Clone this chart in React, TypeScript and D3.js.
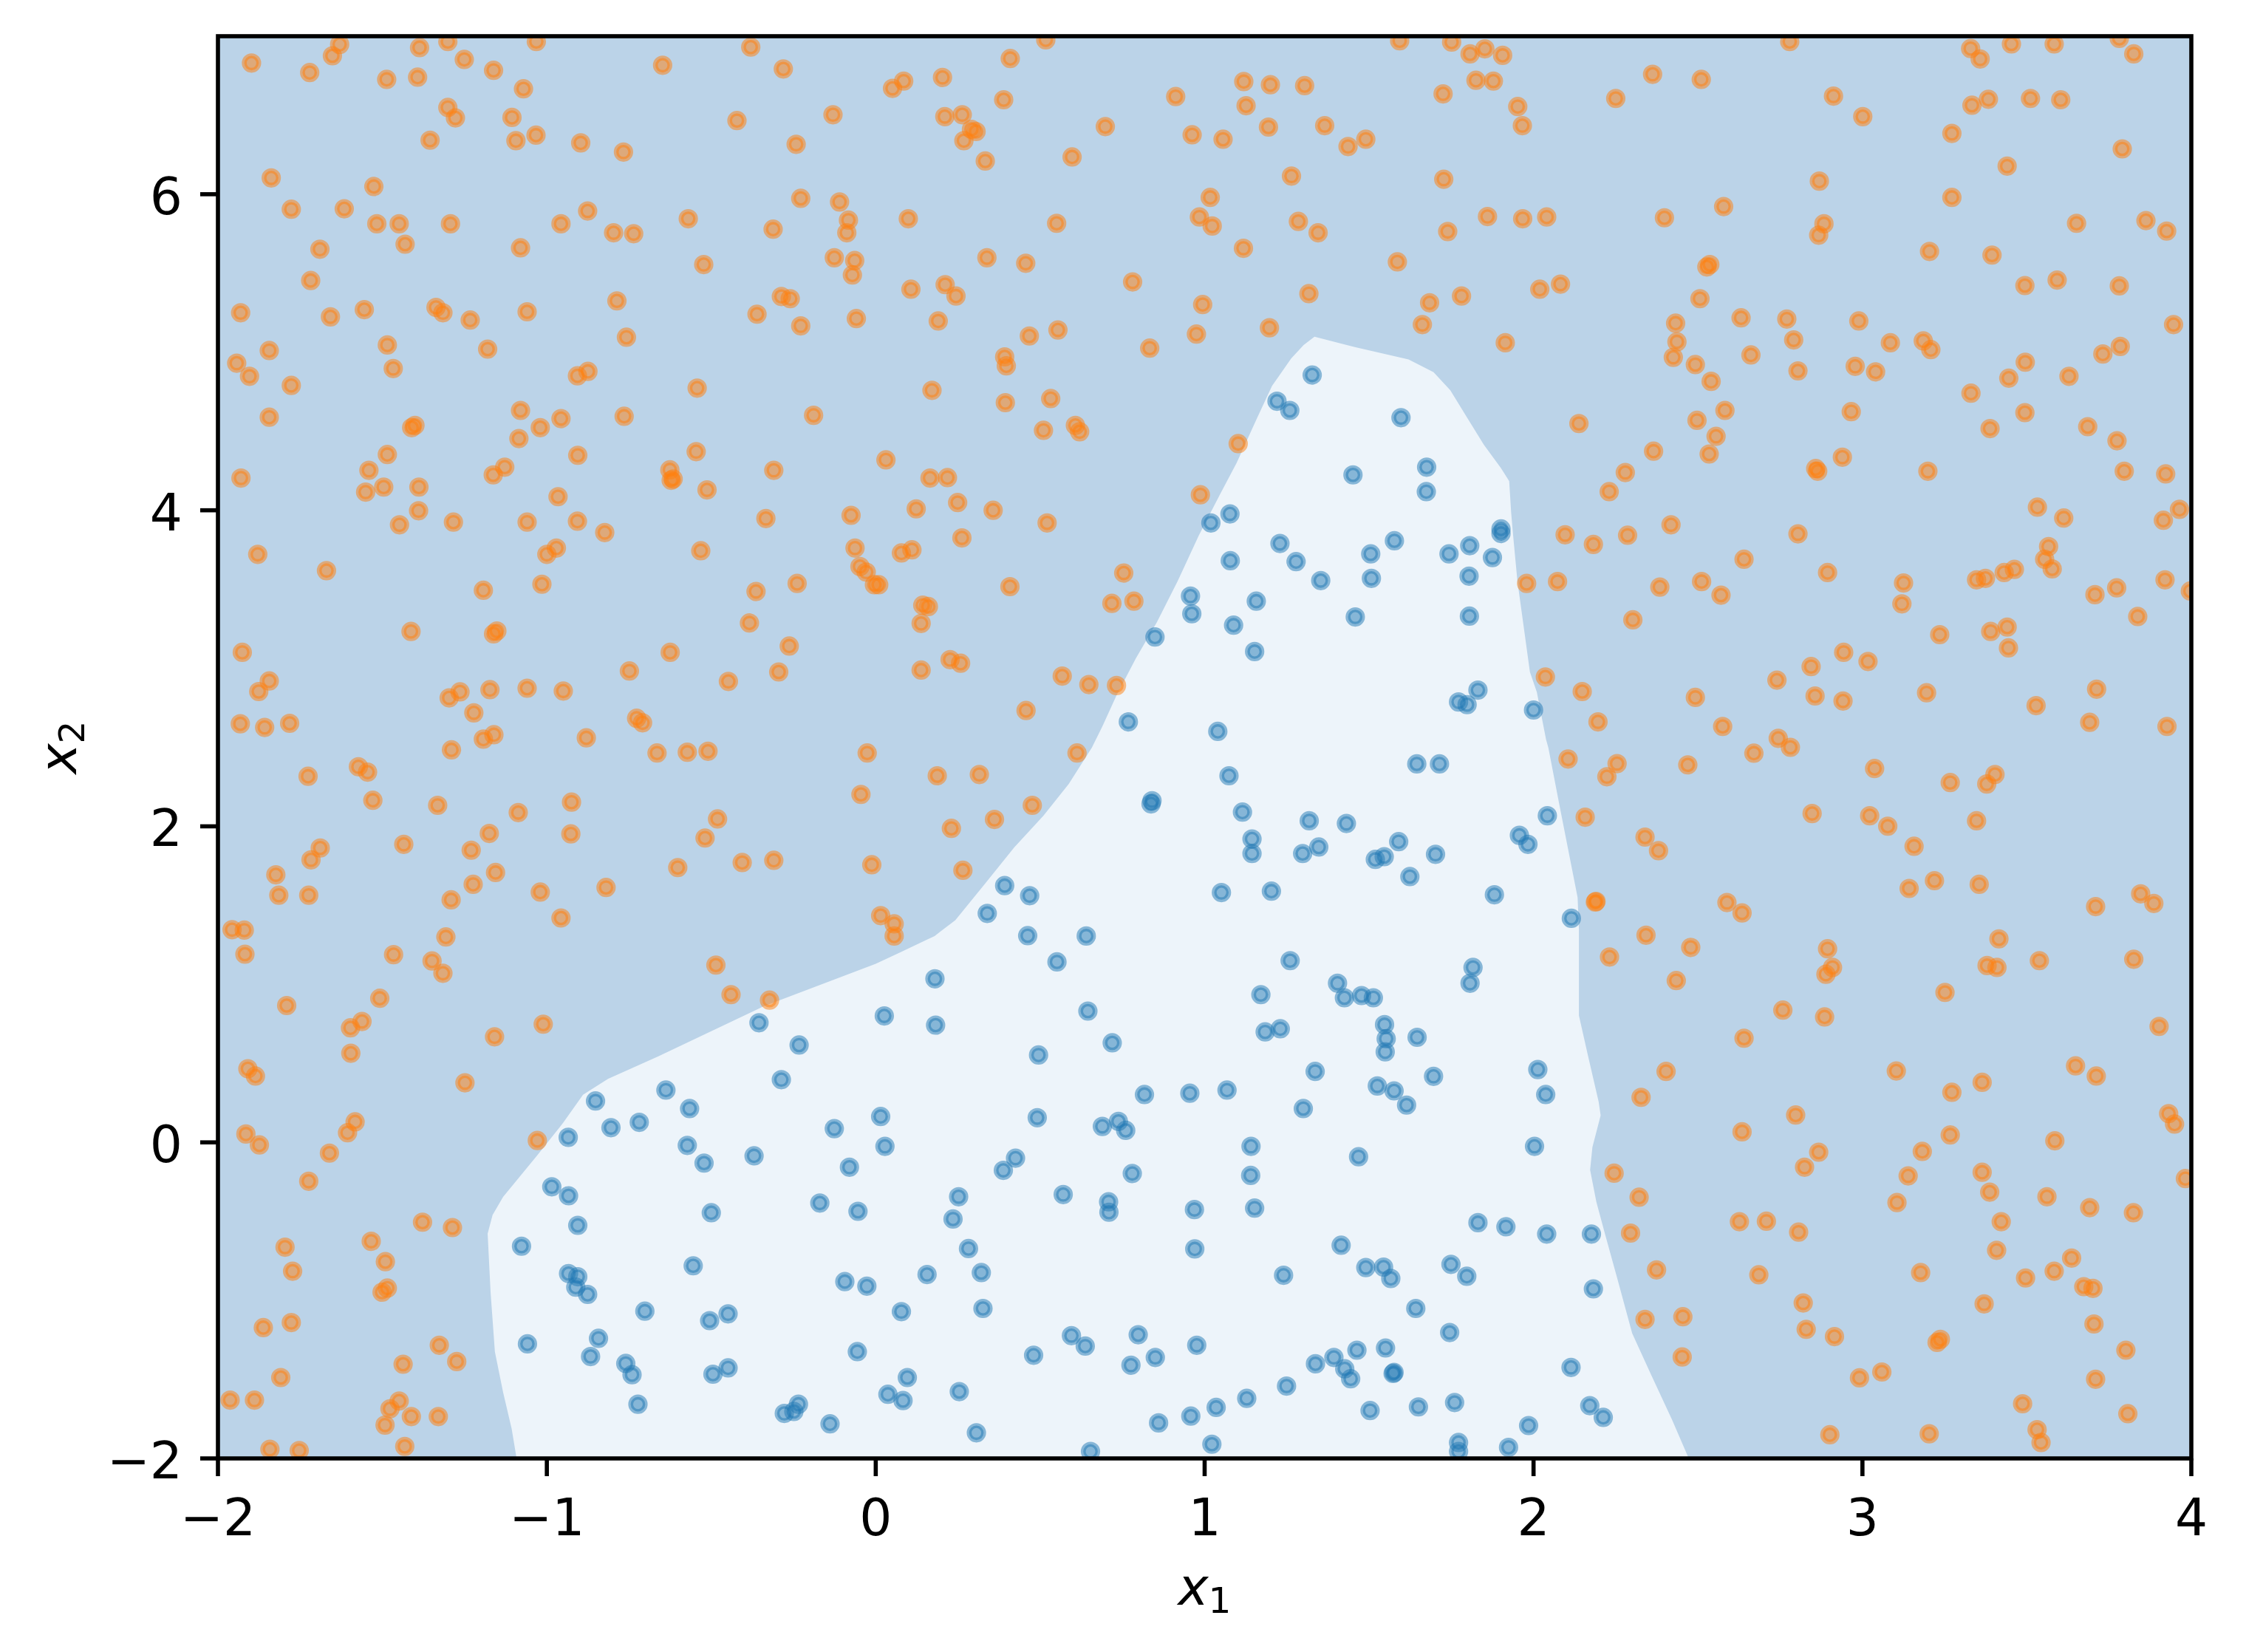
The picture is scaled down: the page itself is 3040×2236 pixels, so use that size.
import React from "react";
import * as d3 from "d3";

const W = 3040;
const H = 2236;
const M = { left: 295, right: 2966, top: 49, bottom: 1974 };

const xDomain: [number, number] = [-2, 4];
const yDomain: [number, number] = [-2, 7];
const xTicks = [-2, -1, 0, 1, 2, 3, 4];
const yTicks = [-2, 0, 2, 4, 6];
const xLabelMain = "x";
const xLabelSub = "1";
const yLabelMain = "x";
const yLabelSub = "2";

// decision boundary of the inner (class 0) region, bottom-left to bottom-right
const boundary: [number, number][] = [
  [-1.092, -2.0], [-1.107, -1.812], [-1.133, -1.582], [-1.158, -1.324], [-1.171, -0.95], [-1.18, -0.577],
  [-1.165, -0.46], [-1.133, -0.345], [-1.031, -0.087], [-0.954, 0.114], [-0.89, 0.301], [-0.814, 0.402],
  [-0.661, 0.545], [-0.342, 0.86], [0.0, 1.13], [0.077, 1.205], [0.179, 1.306], [0.242, 1.406],
  [0.332, 1.636], [0.421, 1.866], [0.51, 2.067], [0.587, 2.268], [0.657, 2.498], [0.689, 2.632],
  [0.733, 2.833], [0.791, 3.063], [0.855, 3.293], [0.918, 3.552], [0.982, 3.839], [1.046, 4.098],
  [1.097, 4.299], [1.16, 4.586], [1.205, 4.787], [1.263, 4.96], [1.301, 5.046], [1.334, 5.098],
  [1.454, 5.034], [1.62, 4.954], [1.696, 4.874], [1.747, 4.759], [1.798, 4.586], [1.849, 4.414],
  [1.9, 4.27], [1.926, 4.184], [1.932, 3.983], [1.938, 3.839], [1.951, 3.552], [1.97, 3.264],
  [1.989, 2.977], [2.01, 2.85], [2.038, 2.55], [2.045, 2.498], [2.077, 2.153], [2.115, 1.751],
  [2.134, 1.55], [2.138, 1.348], [2.138, 0.803], [2.166, 0.544], [2.198, 0.257], [2.204, 0.17],
  [2.179, -0.031], [2.172, -0.174], [2.191, -0.376], [2.217, -0.577], [2.255, -0.864], [2.3, -1.209],
  [2.357, -1.468], [2.421, -1.755], [2.472, -2.0],
];

// class 0 (blue) samples
const class0: [number, number][] = [
  [1.327, 4.856], [1.22, 4.69], [1.259, 4.632], [1.597, 4.586], [1.451, 4.224], [1.675, 4.273], [1.674, 4.118],
  [1.077, 3.977], [1.019, 3.92], [1.229, 3.79], [1.278, 3.675], [1.078, 3.681], [1.353, 3.555], [1.505, 3.724],
  [1.577, 3.807], [1.507, 3.569], [1.743, 3.724], [1.806, 3.776], [1.875, 3.701], [1.804, 3.583], [1.901, 3.882],
  [1.901, 3.853], [1.805, 3.33], [1.458, 3.325], [1.157, 3.425], [0.957, 3.457], [0.961, 3.345], [1.088, 3.273],
  [1.152, 3.106], [0.849, 3.198], [1.831, 2.862], [1.772, 2.787], [1.798, 2.77], [2.0, 2.736], [0.768, 2.661],
  [1.04, 2.601],
  [-0.355, 0.757], [-0.233, 0.616], [-0.287, 0.397], [-0.638, 0.331], [-0.566, 0.214], [-0.852, 0.262],
  [-0.805, 0.093], [-0.719, 0.127], [-0.935, 0.032], [-0.573, -0.019], [-0.522, -0.131], [-0.37, -0.085],
  [-0.126, 0.087], [-0.08, -0.157], [-0.985, -0.281], [-0.934, -0.338], [-0.906, -0.525], [-0.5, -0.445],
  [-0.17, -0.384], [-0.054, -0.436], [-1.077, -0.657], [-0.555, -0.781], [-0.934, -0.83], [-0.906, -0.85],
  [-0.912, -0.916], [-0.876, -0.962], [-0.094, -0.881], [-0.027, -0.91], [-0.702, -1.068], [-0.505, -1.128],
  [-0.449, -1.085], [-1.059, -1.275], [-0.843, -1.24], [-0.867, -1.355], [-0.76, -1.399], [-0.741, -1.47],
  [-0.495, -1.467], [-0.449, -1.427], [-0.056, -1.324], [-0.723, -1.657], [-0.235, -1.657], [-0.278, -1.715],
  [-0.249, -1.703], [-0.139, -1.781],
  [1.645, 2.395], [1.714, 2.395], [1.074, 2.32], [0.84, 2.162], [0.837, 2.142], [1.115, 2.09], [1.318, 2.035],
  [1.431, 2.018], [1.144, 1.92], [1.144, 1.828], [1.298, 1.828], [1.347, 1.869], [1.519, 1.791], [1.546, 1.808],
  [1.59, 1.903], [1.702, 1.823], [1.624, 1.682], [1.957, 1.943], [1.983, 1.886], [1.881, 1.567], [1.051, 1.581],
  [1.203, 1.59], [0.392, 1.625], [0.468, 1.561], [0.339, 1.449], [0.462, 1.308], [0.64, 1.306], [0.551, 1.142],
  [0.18, 1.035], [0.026, 0.8], [0.182, 0.742], [0.645, 0.831], [0.719, 0.63], [0.495, 0.553], [1.26, 1.15],
  [1.404, 1.007], [1.425, 0.915], [1.477, 0.929], [1.513, 0.915], [1.171, 0.935], [1.184, 0.699], [1.23, 0.719],
  [1.816, 1.107], [1.807, 1.007], [1.547, 0.745], [1.552, 0.656], [1.549, 0.573], [1.646, 0.665], [1.336, 0.449],
  [1.525, 0.357], [1.576, 0.326], [1.614, 0.236], [1.696, 0.418], [1.3, 0.214], [0.817, 0.303], [0.955, 0.311],
  [1.068, 0.331], [0.015, 0.164], [0.491, 0.156], [0.689, 0.101], [0.738, 0.133], [0.76, 0.076], [0.028, -0.025],
  [1.141, -0.025], [1.468, -0.091], [0.425, -0.1], [0.388, -0.177], [0.78, -0.197], [1.14, -0.209],
  [0.252, -0.344], [0.235, -0.485], [0.57, -0.33], [0.708, -0.376], [0.709, -0.442], [0.969, -0.425],
  [1.152, -0.416], [1.831, -0.508], [1.916, -0.534], [0.282, -0.672], [0.97, -0.674], [1.415, -0.651],
  [0.156, -0.836], [0.321, -0.824], [1.24, -0.841], [1.49, -0.792], [1.544, -0.789], [1.566, -0.861],
  [1.749, -0.772], [1.797, -0.847], [0.078, -1.071], [0.326, -1.051], [1.642, -1.051], [1.745, -1.203],
  [0.595, -1.223], [0.637, -1.289], [0.798, -1.217], [0.976, -1.284], [0.776, -1.41], [0.85, -1.361],
  [0.48, -1.347], [1.337, -1.401], [1.393, -1.361], [1.426, -1.433], [1.444, -1.496], [1.463, -1.315],
  [1.55, -1.301], [1.573, -1.462], [1.576, -1.456], [1.249, -1.542], [1.128, -1.62], [1.035, -1.677],
  [0.958, -1.732], [0.86, -1.775], [1.503, -1.697], [1.65, -1.674], [1.76, -1.646], [0.096, -1.488],
  [0.037, -1.594], [0.083, -1.634], [0.254, -1.577], [0.306, -1.838], [0.653, -1.956], [1.022, -1.91],
  [1.772, -1.899], [1.772, -1.956], [1.924, -1.93], [1.985, -1.792],
  [2.042, 2.067], [2.115, 1.418], [2.013, 0.461], [2.037, 0.303], [2.003, -0.025], [2.04, -0.58],
  [2.176, -0.58], [2.182, -0.927], [2.114, -1.424], [2.171, -1.666], [2.212, -1.74],
];

// class 1 (orange) samples
const class1: [number, number][] = [
  [-1.898, 6.83], [-1.652, 6.876], [-1.63, 6.948], [-1.721, 6.77], [-1.487, 6.727], [-1.393, 6.741],
  [-1.387, 6.928], [-1.301, 6.966], [-1.251, 6.853], [-1.162, 6.784], [-1.032, 6.966], [-1.071, 6.667],
  [-1.301, 6.549], [-1.278, 6.483], [-1.106, 6.486], [-1.355, 6.342], [-1.094, 6.339], [-1.033, 6.374],
  [-0.897, 6.325], [-0.767, 6.267], [-0.648, 6.816], [-0.38, 6.931], [-0.281, 6.793], [-0.422, 6.466],
  [-0.13, 6.503], [-0.242, 6.316], [-1.838, 6.103], [-1.526, 6.049], [-1.777, 5.905], [-1.616, 5.908],
  [-1.517, 5.813], [-1.449, 5.813], [-1.293, 5.813], [-1.431, 5.684], [-1.69, 5.652], [-1.718, 5.454],
  [-1.08, 5.661], [-0.957, 5.813], [-0.876, 5.894], [-0.797, 5.756], [-0.736, 5.75], [-0.57, 5.845],
  [-0.523, 5.555], [-0.228, 5.974], [-0.312, 5.779], [-0.11, 5.951], [-0.083, 5.836], [-0.088, 5.756],
  [-0.126, 5.598], [-0.064, 5.58], [-0.071, 5.489], [-0.287, 5.353], [-0.26, 5.339], [-0.361, 5.241],
  [-0.228, 5.167], [-0.059, 5.213], [-1.931, 5.25], [-1.658, 5.224], [-1.555, 5.27], [-1.337, 5.284],
  [-1.316, 5.25], [-1.233, 5.204], [-1.06, 5.256], [-0.787, 5.325], [-0.758, 5.095], [-1.485, 5.046],
  [-1.18, 5.02], [-1.844, 5.011], [-1.943, 4.931], [-1.904, 4.848], [-1.777, 4.79], [-1.467, 4.897],
  [-0.907, 4.851], [-0.875, 4.879], [-0.543, 4.773], [-0.189, 4.601], [-1.844, 4.589], [-1.08, 4.632],
  [-1.02, 4.523], [-0.957, 4.58], [-0.765, 4.595], [-1.411, 4.523], [-1.401, 4.537], [-1.085, 4.454],
  [-0.906, 4.348], [-0.546, 4.371], [-1.485, 4.353], [-1.541, 4.253], [-1.93, 4.204], [-1.551, 4.115],
  [-1.496, 4.147], [-1.389, 4.147], [-1.39, 3.997], [-1.448, 3.908], [-1.284, 3.925], [-1.163, 4.224],
  [-1.128, 4.273], [-0.966, 4.086], [-1.06, 3.925], [-0.907, 3.931], [-0.824, 3.859], [-0.626, 4.256],
  [-0.616, 4.198], [-0.622, 4.19], [-0.513, 4.129], [-0.31, 4.253], [-0.334, 3.948], [-0.075, 3.968],
  [-0.063, 3.761], [-0.048, 3.644], [-0.029, 3.609], [-0.004, 3.529], [-0.532, 3.744], [-1.879, 3.721],
  [-1.67, 3.618], [-1.0, 3.721], [-0.971, 3.761], [-1.015, 3.532], [-1.193, 3.494], [-0.364, 3.486],
  [-0.239, 3.537], [-0.384, 3.287], [-0.263, 3.141], [-0.295, 2.977], [-0.448, 2.917], [-1.413, 3.233],
  [-1.162, 3.218], [-1.152, 3.236], [-1.926, 3.101], [-1.844, 2.92], [-1.876, 2.853], [-0.625, 3.101],
  [-0.749, 2.983], [-1.264, 2.851], [-1.297, 2.813], [-1.173, 2.865], [-1.06, 2.874], [-0.95, 2.856],
  [-1.222, 2.718], [-1.932, 2.649], [-1.858, 2.626], [-1.782, 2.652], [-1.161, 2.58], [-1.193, 2.552],
  [-0.727, 2.684], [-0.709, 2.655], [-0.88, 2.56],
  [-1.29, 2.484], [-0.665, 2.464], [-0.573, 2.469], [-0.51, 2.475], [-0.026, 2.464], [-1.726, 2.317],
  [-1.573, 2.377], [-1.545, 2.343], [-1.529, 2.165], [-1.332, 2.133], [-1.087, 2.087], [-0.925, 2.153],
  [-0.927, 1.952], [-1.175, 1.955], [-1.23, 1.849], [-1.156, 1.708], [-1.224, 1.633], [-1.291, 1.535],
  [-1.02, 1.584], [-0.82, 1.613], [-0.957, 1.42], [-1.435, 1.886], [-1.689, 1.863], [-1.717, 1.788],
  [-1.824, 1.693], [-1.815, 1.564], [-1.724, 1.564], [-1.957, 1.346], [-1.92, 1.343], [-1.918, 1.191],
  [-0.481, 2.047], [-0.519, 1.926], [-0.602, 1.739], [-0.406, 1.771], [-0.31, 1.785], [-0.045, 2.202],
  [-0.012, 1.757], [-1.307, 1.3], [-1.466, 1.188], [-1.349, 1.148], [-1.316, 1.07], [-1.508, 0.912],
  [-1.791, 0.866], [-1.597, 0.725], [-1.562, 0.765], [-1.596, 0.564], [-1.159, 0.668], [-1.011, 0.748],
  [-0.486, 1.122], [-0.44, 0.935], [-0.323, 0.9], [-1.909, 0.466], [-1.886, 0.42], [-1.249, 0.377],
  [-1.915, 0.053], [-1.874, -0.016], [-1.583, 0.13], [-1.606, 0.061], [-1.661, -0.068], [-1.724, -0.246],
  [-1.029, 0.012], [-1.378, -0.505], [-1.287, -0.539], [-1.796, -0.663], [-1.773, -0.815], [-1.534, -0.626],
  [-1.491, -0.755], [-1.485, -0.922], [-1.501, -0.948], [-1.862, -1.172], [-1.777, -1.14], [-1.327, -1.284],
  [-1.274, -1.387], [-1.437, -1.404], [-1.809, -1.488], [-1.963, -1.631], [-1.889, -1.631], [-1.449, -1.637],
  [-1.477, -1.686], [-1.412, -1.735], [-1.33, -1.735], [-1.492, -1.789], [-1.842, -1.942], [-1.753, -1.95],
  [-1.432, -1.924],
  [0.517, 6.977], [0.409, 6.859], [0.085, 6.716], [0.051, 6.67], [0.203, 6.739], [0.389, 6.598],
  [0.21, 6.491], [0.263, 6.503], [0.291, 6.411], [0.305, 6.397], [0.268, 6.339], [0.333, 6.21],
  [0.597, 6.236], [0.698, 6.428], [0.912, 6.618], [0.962, 6.376], [1.056, 6.348], [1.119, 6.713],
  [1.2, 6.693], [1.304, 6.687], [1.126, 6.56], [1.194, 6.425], [1.365, 6.434], [1.436, 6.302],
  [1.49, 6.348], [1.264, 6.115], [1.593, 6.971], [1.751, 6.963], [1.807, 6.888], [1.852, 6.92],
  [1.906, 6.879], [1.825, 6.721], [1.878, 6.716], [1.725, 6.635], [1.952, 6.555], [1.966, 6.434],
  [1.727, 6.095], [0.099, 5.845], [0.55, 5.816], [1.017, 5.98], [0.984, 5.856], [1.023, 5.799],
  [1.285, 5.828], [1.345, 5.756], [1.118, 5.658], [1.86, 5.859], [1.967, 5.845], [1.739, 5.764],
  [1.586, 5.572], [0.338, 5.598], [0.456, 5.563], [0.781, 5.445], [0.107, 5.399], [0.211, 5.428],
  [0.244, 5.356], [0.19, 5.198], [0.467, 5.103], [0.554, 5.141], [0.994, 5.302], [0.975, 5.115],
  [0.833, 5.026], [1.197, 5.155], [1.317, 5.371], [1.684, 5.313], [1.781, 5.356], [1.662, 5.175],
  [1.914, 5.06], [0.392, 4.971], [0.397, 4.914], [0.171, 4.759], [0.394, 4.681], [0.532, 4.707],
  [0.51, 4.506], [0.607, 4.537], [0.62, 4.497], [1.102, 4.422], [0.031, 4.319], [0.165, 4.204],
  [0.218, 4.207], [0.123, 4.009], [0.249, 4.049], [0.357, 4.0], [0.521, 3.92], [0.262, 3.825],
  [0.078, 3.73], [0.11, 3.75], [0.987, 4.098], [0.009, 3.529], [0.408, 3.517], [0.754, 3.603],
  [0.718, 3.411], [0.785, 3.425], [0.143, 3.399], [0.16, 3.391], [0.138, 3.284], [0.226, 3.055],
  [0.258, 3.032], [0.138, 2.989], [0.567, 2.951], [0.648, 2.897], [0.732, 2.891], [0.457, 2.733],
  [1.979, 3.537],
  [0.612, 2.464], [0.187, 2.32], [0.315, 2.328], [0.476, 2.133], [0.23, 1.987], [0.361, 2.044],
  [0.265, 1.722], [0.015, 1.435], [0.056, 1.383], [0.056, 1.306],
  [2.779, 6.966], [3.329, 6.922], [3.358, 6.856], [3.453, 6.951], [3.583, 6.951], [3.781, 6.986],
  [3.825, 6.888], [2.362, 6.759], [2.51, 6.727], [2.25, 6.606], [2.912, 6.621], [3.001, 6.491],
  [3.333, 6.563], [3.383, 6.601], [3.511, 6.606], [3.603, 6.598], [3.272, 6.385], [3.79, 6.287],
  [3.44, 6.178], [2.869, 6.083], [3.272, 5.98], [2.04, 5.856], [2.398, 5.851], [2.578, 5.922],
  [2.883, 5.813], [2.867, 5.741], [3.651, 5.816], [3.862, 5.833], [3.925, 5.767], [3.204, 5.638],
  [3.394, 5.615], [2.527, 5.54], [2.536, 5.555], [2.019, 5.399], [2.082, 5.431], [2.506, 5.339],
  [3.494, 5.422], [3.592, 5.457], [3.781, 5.42], [3.946, 5.175], [2.432, 5.184], [2.436, 5.066],
  [2.425, 4.968], [2.492, 4.922], [2.54, 4.816], [2.631, 5.218], [2.661, 4.983], [2.77, 5.21],
  [2.791, 5.078], [2.804, 4.882], [2.989, 5.198], [2.978, 4.911], [3.04, 4.876], [3.085, 5.06],
  [3.185, 5.072], [3.208, 5.017], [3.33, 4.741], [3.445, 4.836], [3.495, 4.937], [3.628, 4.848],
  [3.731, 4.989], [3.784, 5.037], [2.138, 4.549], [2.582, 4.632], [2.497, 4.569], [2.555, 4.468],
  [2.534, 4.356], [2.365, 4.374], [2.966, 4.624], [3.388, 4.517], [3.494, 4.618], [3.685, 4.529],
  [3.774, 4.44], [2.279, 4.239], [2.23, 4.118], [2.858, 4.264], [2.864, 4.247], [2.939, 4.336],
  [3.199, 4.247], [3.796, 4.247], [3.922, 4.23], [3.532, 4.02], [3.612, 3.951], [3.915, 3.937],
  [3.964, 4.006], [2.096, 3.845], [2.182, 3.784], [2.286, 3.842], [2.418, 3.908], [2.804, 3.851],
  [2.64, 3.69], [2.894, 3.606], [2.073, 3.549], [2.384, 3.514], [2.511, 3.549], [2.57, 3.463],
  [2.302, 3.307], [3.125, 3.54], [3.12, 3.408], [3.235, 3.213], [3.347, 3.56], [3.374, 3.569],
  [3.431, 3.606], [3.462, 3.626], [3.566, 3.77], [3.554, 3.69], [3.577, 3.629], [3.39, 3.233],
  [3.44, 3.261], [3.444, 3.129], [3.707, 3.466], [3.773, 3.509], [3.837, 3.328], [3.92, 3.56],
  [3.997, 3.489], [2.943, 3.101], [3.017, 3.043], [2.844, 3.011], [2.74, 2.925], [2.856, 2.825],
  [2.941, 2.793], [3.195, 2.845], [3.712, 2.868], [3.528, 2.764], [3.691, 2.658], [3.926, 2.632],
  [2.036, 2.945], [2.148, 2.853], [2.492, 2.816], [2.196, 2.661], [2.575, 2.632], [2.744, 2.557],
  [2.781, 2.5],
  [2.105, 2.426], [2.254, 2.397], [2.223, 2.314], [2.469, 2.389], [2.67, 2.463], [3.037, 2.366],
  [3.267, 2.277], [3.403, 2.328], [3.378, 2.268], [2.157, 2.058], [2.339, 1.932], [2.38, 1.846],
  [2.847, 2.081], [3.022, 2.067], [3.077, 2.001], [3.347, 2.035], [3.157, 1.874], [2.188, 1.521],
  [2.19, 1.525], [2.588, 1.518], [2.634, 1.452], [3.142, 1.607], [3.219, 1.656], [3.355, 1.633],
  [3.709, 1.492], [3.846, 1.573], [3.886, 1.512], [2.342, 1.311], [2.478, 1.234], [2.231, 1.173],
  [2.434, 1.024], [2.894, 1.225], [2.909, 1.107], [2.889, 1.064], [3.415, 1.288], [3.379, 1.119],
  [3.409, 1.107], [3.538, 1.15], [3.825, 1.159], [3.251, 0.949], [2.758, 0.837], [2.885, 0.794],
  [3.902, 0.734], [2.64, 0.659], [2.403, 0.449], [2.327, 0.285], [3.103, 0.452], [3.272, 0.317],
  [3.364, 0.38], [3.648, 0.484], [3.711, 0.42], [2.797, 0.173], [2.634, 0.067], [2.867, -0.062],
  [2.824, -0.157], [3.267, 0.047], [3.182, -0.057], [3.139, -0.212], [3.931, 0.182], [3.949, 0.116],
  [3.585, 0.01], [2.245, -0.195], [2.321, -0.347], [3.364, -0.189], [3.387, -0.315], [3.105, -0.381],
  [3.982, -0.229], [3.561, -0.344], [3.691, -0.413], [3.824, -0.445], [2.626, -0.502], [2.708, -0.499],
  [2.806, -0.568], [2.295, -0.574], [3.422, -0.502], [3.408, -0.683], [2.374, -0.807], [2.685, -0.838],
  [3.177, -0.824], [3.496, -0.858], [3.583, -0.815], [3.636, -0.732], [3.673, -0.913], [3.701, -0.924],
  [2.82, -1.016], [3.37, -1.022], [2.339, -1.12], [2.454, -1.103], [2.829, -1.183], [2.915, -1.229],
  [3.227, -1.266], [3.237, -1.246], [3.704, -1.149], [3.801, -1.315], [2.452, -1.358], [2.991, -1.49],
  [3.059, -1.453], [3.709, -1.499], [3.487, -1.654], [3.807, -1.717], [2.901, -1.85], [3.203, -1.844],
  [3.531, -1.818], [3.543, -1.899],
];

const OUTER_BG = "#bbd3e8";
const INNER_BG = "#edf4fa";
const C0 = "#1f77b4";
const C1 = "#ff7f0e";
const FONT = "DejaVu Sans";
const FS = 69.4;

function fmt(v: number) {
  return v < 0 ? "\u2212" + Math.abs(v) : String(v);
}

export default function App() {
  const x = d3.scaleLinear().domain(xDomain).range([M.left, M.right]);
  const y = d3.scaleLinear().domain(yDomain).range([M.bottom, M.top]);
  const line = d3
    .line<[number, number]>()
    .x((d) => x(d[0]))
    .y((d) => y(d[1]));
  const regionPath = line(boundary) + "Z";

  const marker = (d: [number, number], i: number, color: string) => (
    <circle
      key={i}
      cx={x(d[0])}
      cy={y(d[1])}
      r={9.8}
      fill={color}
      fillOpacity={0.5}
      stroke={color}
      strokeOpacity={0.5}
      strokeWidth={6.6}
    />
  );

  const tickLen = 24;
  const sw = 5.6;

  return (
    <svg
      width={W}
      height={H}
      style={{ position: "absolute", left: 0, top: 0, display: "block", background: "#fff" }}
      fontFamily={FONT}
    >
      <defs>
        <clipPath id="plotclip">
          <rect x={M.left} y={M.top} width={M.right - M.left} height={M.bottom - M.top} />
        </clipPath>
      </defs>
      <rect x={0} y={0} width={W} height={H} fill="#fff" />
      <g clipPath="url(#plotclip)">
        <rect x={M.left} y={M.top} width={M.right - M.left} height={M.bottom - M.top} fill={OUTER_BG} />
        <path d={regionPath} fill={INNER_BG} />
        {class0.map((d, i) => marker(d, i, C0))}
        {class1.map((d, i) => marker(d, i, C1))}
      </g>
      <rect
        x={M.left}
        y={M.top}
        width={M.right - M.left}
        height={M.bottom - M.top}
        fill="none"
        stroke="#000"
        strokeWidth={sw}
        strokeLinejoin="miter"
        strokeLinecap="square"
      />
      {xTicks.map((t) => (
        <g key={"xt" + t}>
          <line x1={x(t)} x2={x(t)} y1={M.bottom} y2={M.bottom + tickLen} stroke="#000" strokeWidth={sw} />
          <text x={x(t)} y={2078} fontSize={FS} textAnchor="middle">
            {fmt(t)}
          </text>
        </g>
      ))}
      {yTicks.map((t) => (
        <g key={"yt" + t}>
          <line x1={M.left - tickLen} x2={M.left} y1={y(t)} y2={y(t)} stroke="#000" strokeWidth={sw} />
          <text x={M.left - tickLen - 24} y={y(t) + 27} fontSize={FS} textAnchor="end">
            {fmt(t)}
          </text>
        </g>
      ))}
      <text x={(M.left + M.right) / 2} y={2172} fontSize={FS} textAnchor="middle">
        <tspan fontStyle="italic">{xLabelMain}</tspan>
        <tspan fontSize={FS * 0.7} dy={11}>
          {xLabelSub}
        </tspan>
      </text>
      <text
        transform={`translate(103, ${(M.top + M.bottom) / 2}) rotate(-90)`}
        fontSize={FS}
        textAnchor="middle"
      >
        <tspan fontStyle="italic">{yLabelMain}</tspan>
        <tspan fontSize={FS * 0.7} dy={11}>
          {yLabelSub}
        </tspan>
      </text>
    </svg>
  );
}
